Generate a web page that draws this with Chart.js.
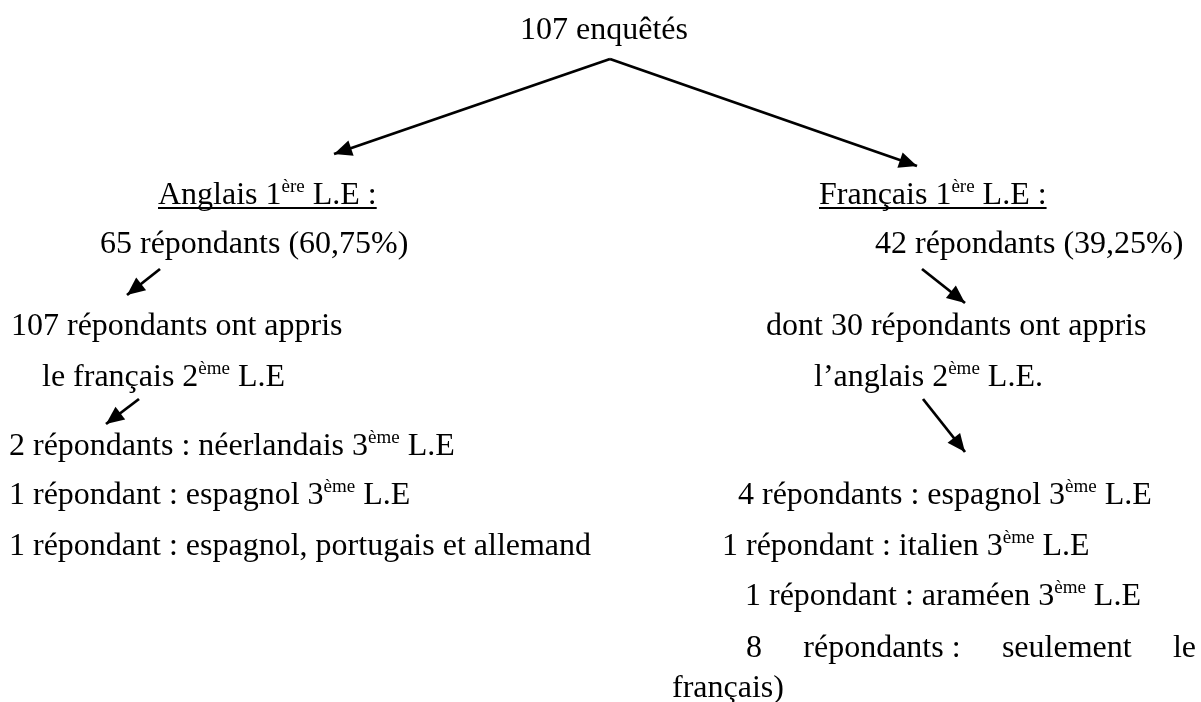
<!DOCTYPE html>
<html>
<head>
<meta charset="utf-8">
<script src="https://cdn.jsdelivr.net/npm/chart.js@4"></script>
<style>
  html, body { margin: 0; padding: 0; background: #fff; }
  canvas { display: block; }
</style>
</head>
<body>
<canvas id="treeChart" width="1201" height="702"></canvas>
<script>
// texts of the tree, {..} marks a superscript
var nodeLines = [
    '107 enquêtés',
    'Anglais 1{ère} L.E :',
    'Français 1{ère} L.E :',
    '65 répondants (60,75%)',
    '42 répondants (39,25%)',
    '107 répondants ont appris',
    'dont 30 répondants ont appris',
    'le français 2{ème} L.E',
    'l’anglais 2{ème} L.E.',
    '2 répondants : néerlandais 3{ème} L.E',
    '1 répondant : espagnol 3{ème} L.E',
    '1 répondant : espagnol, portugais et allemand',
    '4 répondants : espagnol 3{ème} L.E',
    '1 répondant : italien 3{ème} L.E',
    '1 répondant : araméen 3{ème} L.E',
    '8 répondants\u00a0: seulement le',
    'français)'
];
var nodeX = [520, 158, 819, 100, 875, 11, 766, 42, 814, 9, 9, 9, 738, 722, 745, 746, 672];
var nodeY = [39, 204, 204, 253, 253, 335, 335, 386, 386, 455, 504, 555, 504, 555, 605, 657, 697];
var underlined = [1, 2];
var justified = [15];
var justifyRight = 1196;

// arrows: start point and tip
var arrowFrom = [[610, 59], [610, 59], [160, 269], [922, 269], [139, 399], [923, 399]];
var arrowTo = [[334, 154], [917, 166], [127, 295], [965, 303], [106, 424], [965, 452]];

var FONT = '"Liberation Serif", "Times New Roman", serif';
var SIZE = 32;
var SUP = 19;

function parseSegments(str) {
    var segs = [];
    var re = /\{([^}]*)\}/g, last = 0, m;
    while ((m = re.exec(str)) !== null) {
        if (m.index > last) segs.push({ t: str.slice(last, m.index), sup: false });
        segs.push({ t: m[1], sup: true });
        last = re.lastIndex;
    }
    if (last < str.length) segs.push({ t: str.slice(last), sup: false });
    return segs;
}

var textPlugin = {
    id: 'treeText',
    afterDatasetsDraw: function(chart) {
        var ctx = chart.ctx;
        var xs = chart.scales.x, ys = chart.scales.y;
        ctx.save();
        ctx.fillStyle = '#000';
        ctx.strokeStyle = '#000';
        ctx.textBaseline = 'alphabetic';
        ctx.textAlign = 'left';
        nodeLines.forEach(function(line, i) {
            var px = xs.getPixelForValue(nodeX[i]);
            var py = ys.getPixelForValue(nodeY[i]);
            var startX = px;
            ctx.font = SIZE + 'px ' + FONT;
            if (justified.indexOf(i) >= 0) {
                // spread the words up to the right margin
                var words = line.split(' ');
                var total = 0;
                words.forEach(function(w) { total += ctx.measureText(w).width; });
                var right = xs.getPixelForValue(justifyRight);
                var gap = (right - px - total) / (words.length - 1);
                words.forEach(function(w) {
                    ctx.fillText(w, px, py);
                    px += ctx.measureText(w).width + gap;
                });
                return;
            }
            parseSegments(line).forEach(function(s) {
                if (s.sup) {
                    ctx.font = SUP + 'px ' + FONT;
                    ctx.fillText(s.t, px, py - 12);
                } else {
                    ctx.font = SIZE + 'px ' + FONT;
                    ctx.fillText(s.t, px, py);
                }
                px += ctx.measureText(s.t).width;
            });
            if (underlined.indexOf(i) >= 0) {
                ctx.lineWidth = 1.8;
                ctx.beginPath();
                ctx.moveTo(startX, py + 4);
                ctx.lineTo(px, py + 4);
                ctx.stroke();
            }
        });
        ctx.restore();
    }
};

var arrowHeadPlugin = {
    id: 'arrowHeads',
    afterDatasetsDraw: function(chart) {
        var ctx = chart.ctx;
        ctx.save();
        ctx.fillStyle = '#000';
        chart.data.datasets.forEach(function(ds, i) {
            var pts = chart.getDatasetMeta(i).data;
            if (pts.length < 2) return;
            var a = pts[0], b = pts[pts.length - 1];
            var ang = Math.atan2(b.y - a.y, b.x - a.x);
            var len = 18, half = 8;
            ctx.beginPath();
            ctx.moveTo(b.x, b.y);
            ctx.lineTo(b.x - len * Math.cos(ang) + half * Math.sin(ang), b.y - len * Math.sin(ang) - half * Math.cos(ang));
            ctx.lineTo(b.x - len * Math.cos(ang) - half * Math.sin(ang), b.y - len * Math.sin(ang) + half * Math.cos(ang));
            ctx.closePath();
            ctx.fill();
        });
        ctx.restore();
    }
};

var arrowSets = arrowFrom.map(function(p, i) {
    return {
        data: [{ x: p[0], y: p[1] }, { x: arrowTo[i][0], y: arrowTo[i][1] }],
        showLine: true,
        borderColor: '#000',
        borderWidth: 2.8,
        pointRadius: 0,
        pointHoverRadius: 0
    };
});

var treeChart = new Chart(document.getElementById('treeChart').getContext('2d'), {
    type: 'scatter',
    data: { datasets: arrowSets },
    options: {
        responsive: false,
        animation: false,
        layout: { padding: 0 },
        plugins: {
            legend: { display: false },
            tooltip: { enabled: false }
        },
        scales: {
            x: { type: 'linear', min: 0, max: 1201, display: false },
            y: { type: 'linear', min: 0, max: 702, reverse: true, display: false }
        }
    },
    plugins: [textPlugin, arrowHeadPlugin]
});
</script>
</body>
</html>
